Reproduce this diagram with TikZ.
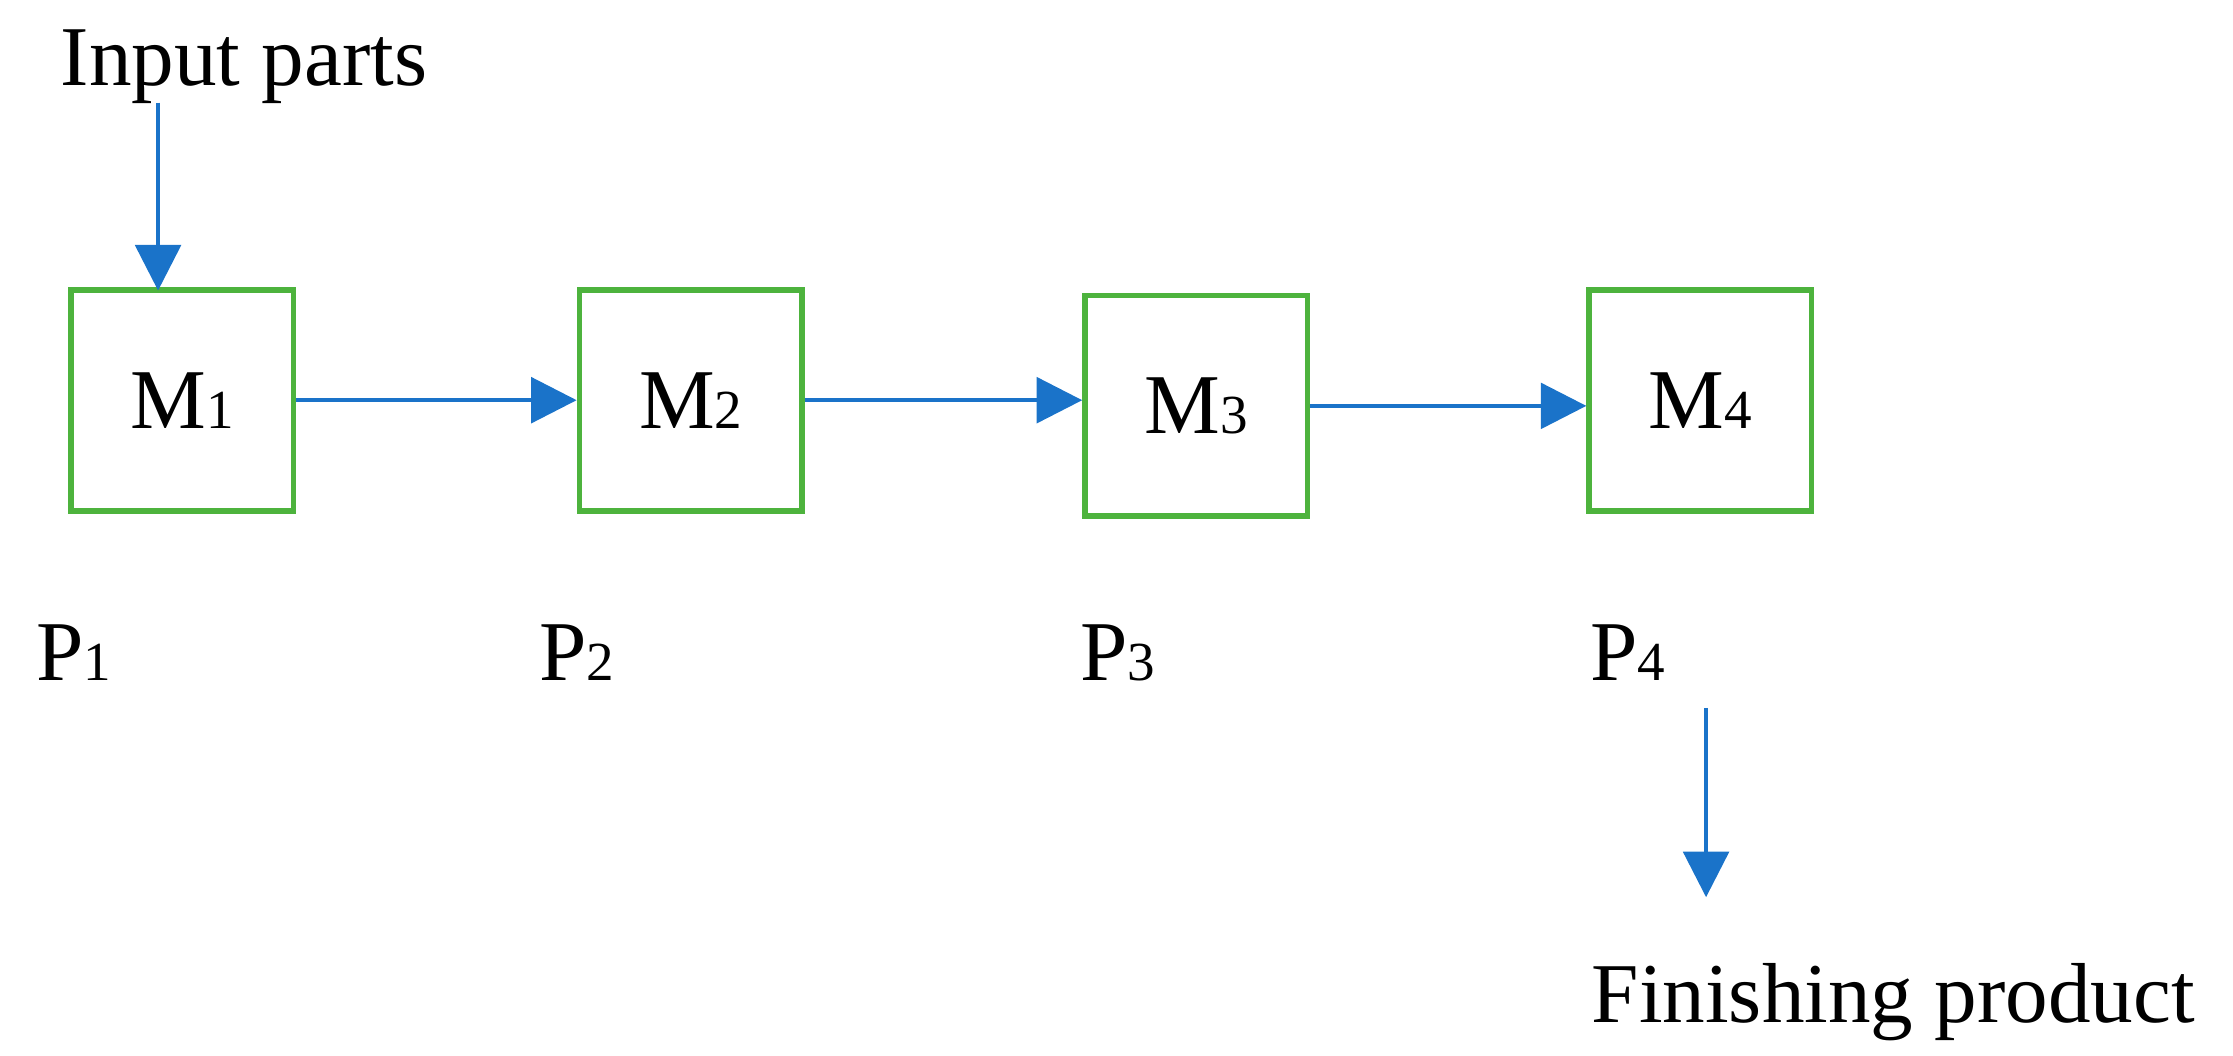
\documentclass[tikz,border=0pt]{standalone}
\usepackage{fontspec}
\setmainfont{Liberation Serif}
\usetikzlibrary{arrows.meta}
\definecolor{bx}{HTML}{4DB33D}
\definecolor{ar}{HTML}{1A73C9}
\tikzset{
 box/.style={draw=bx,line width=1.15pt,minimum width=1.56cm,minimum height=1.55cm,inner sep=0pt,font=\fontsize{17}{17}\selectfont},
 arr/.style={draw=ar,line width=0.8pt,-{Triangle[length=0.32cm,width=0.32cm]}},
 lbl/.style={inner sep=0pt,anchor=base west,font=\fontsize{17}{17}\selectfont},
}
\newcommand{\sbs}[1]{{\fontsize{11}{11}\selectfont #1}}
\begin{document}
\begin{tikzpicture}[x=0.01cm,y=-0.01cm]
\useasboundingbox (0,0) rectangle (1568,741);
\node[box] (m1) at (128,281) {M\sbs{1}};
\node[box] (m2) at (485,281) {M\sbs{2}};
\node[box] (m3) at (840,285) {M\sbs{3}};
\node[box] (m4) at (1194,281) {M\sbs{4}};
\node[lbl] (in) at (42,60) {Input parts};
\coordinate (inend) at (111,72);
\coordinate (m1top) at (111,204);
\draw[arr] (inend) -- (m1top);
\draw[arr] (m1.east) -- (m2.west);
\draw[arr] (m2.east) -- (m3.west |- m2.east);
\draw[arr] (m3.east) -- (m4.west |- m3.east);
\node[lbl] (p1) at (25,478) {P\sbs{1}};
\node[lbl] (p2) at (378,478) {P\sbs{2}};
\node[lbl] (p3) at (758,478) {P\sbs{3}};
\node[lbl] (p4) at (1116,478) {P\sbs{4}};
\coordinate (ds) at (1198,497);
\coordinate (de) at (1198,630);
\draw[arr] (ds) -- (de);
\node[lbl] (fp) at (1117,718) {Finishing product};
\end{tikzpicture}
\end{document}
